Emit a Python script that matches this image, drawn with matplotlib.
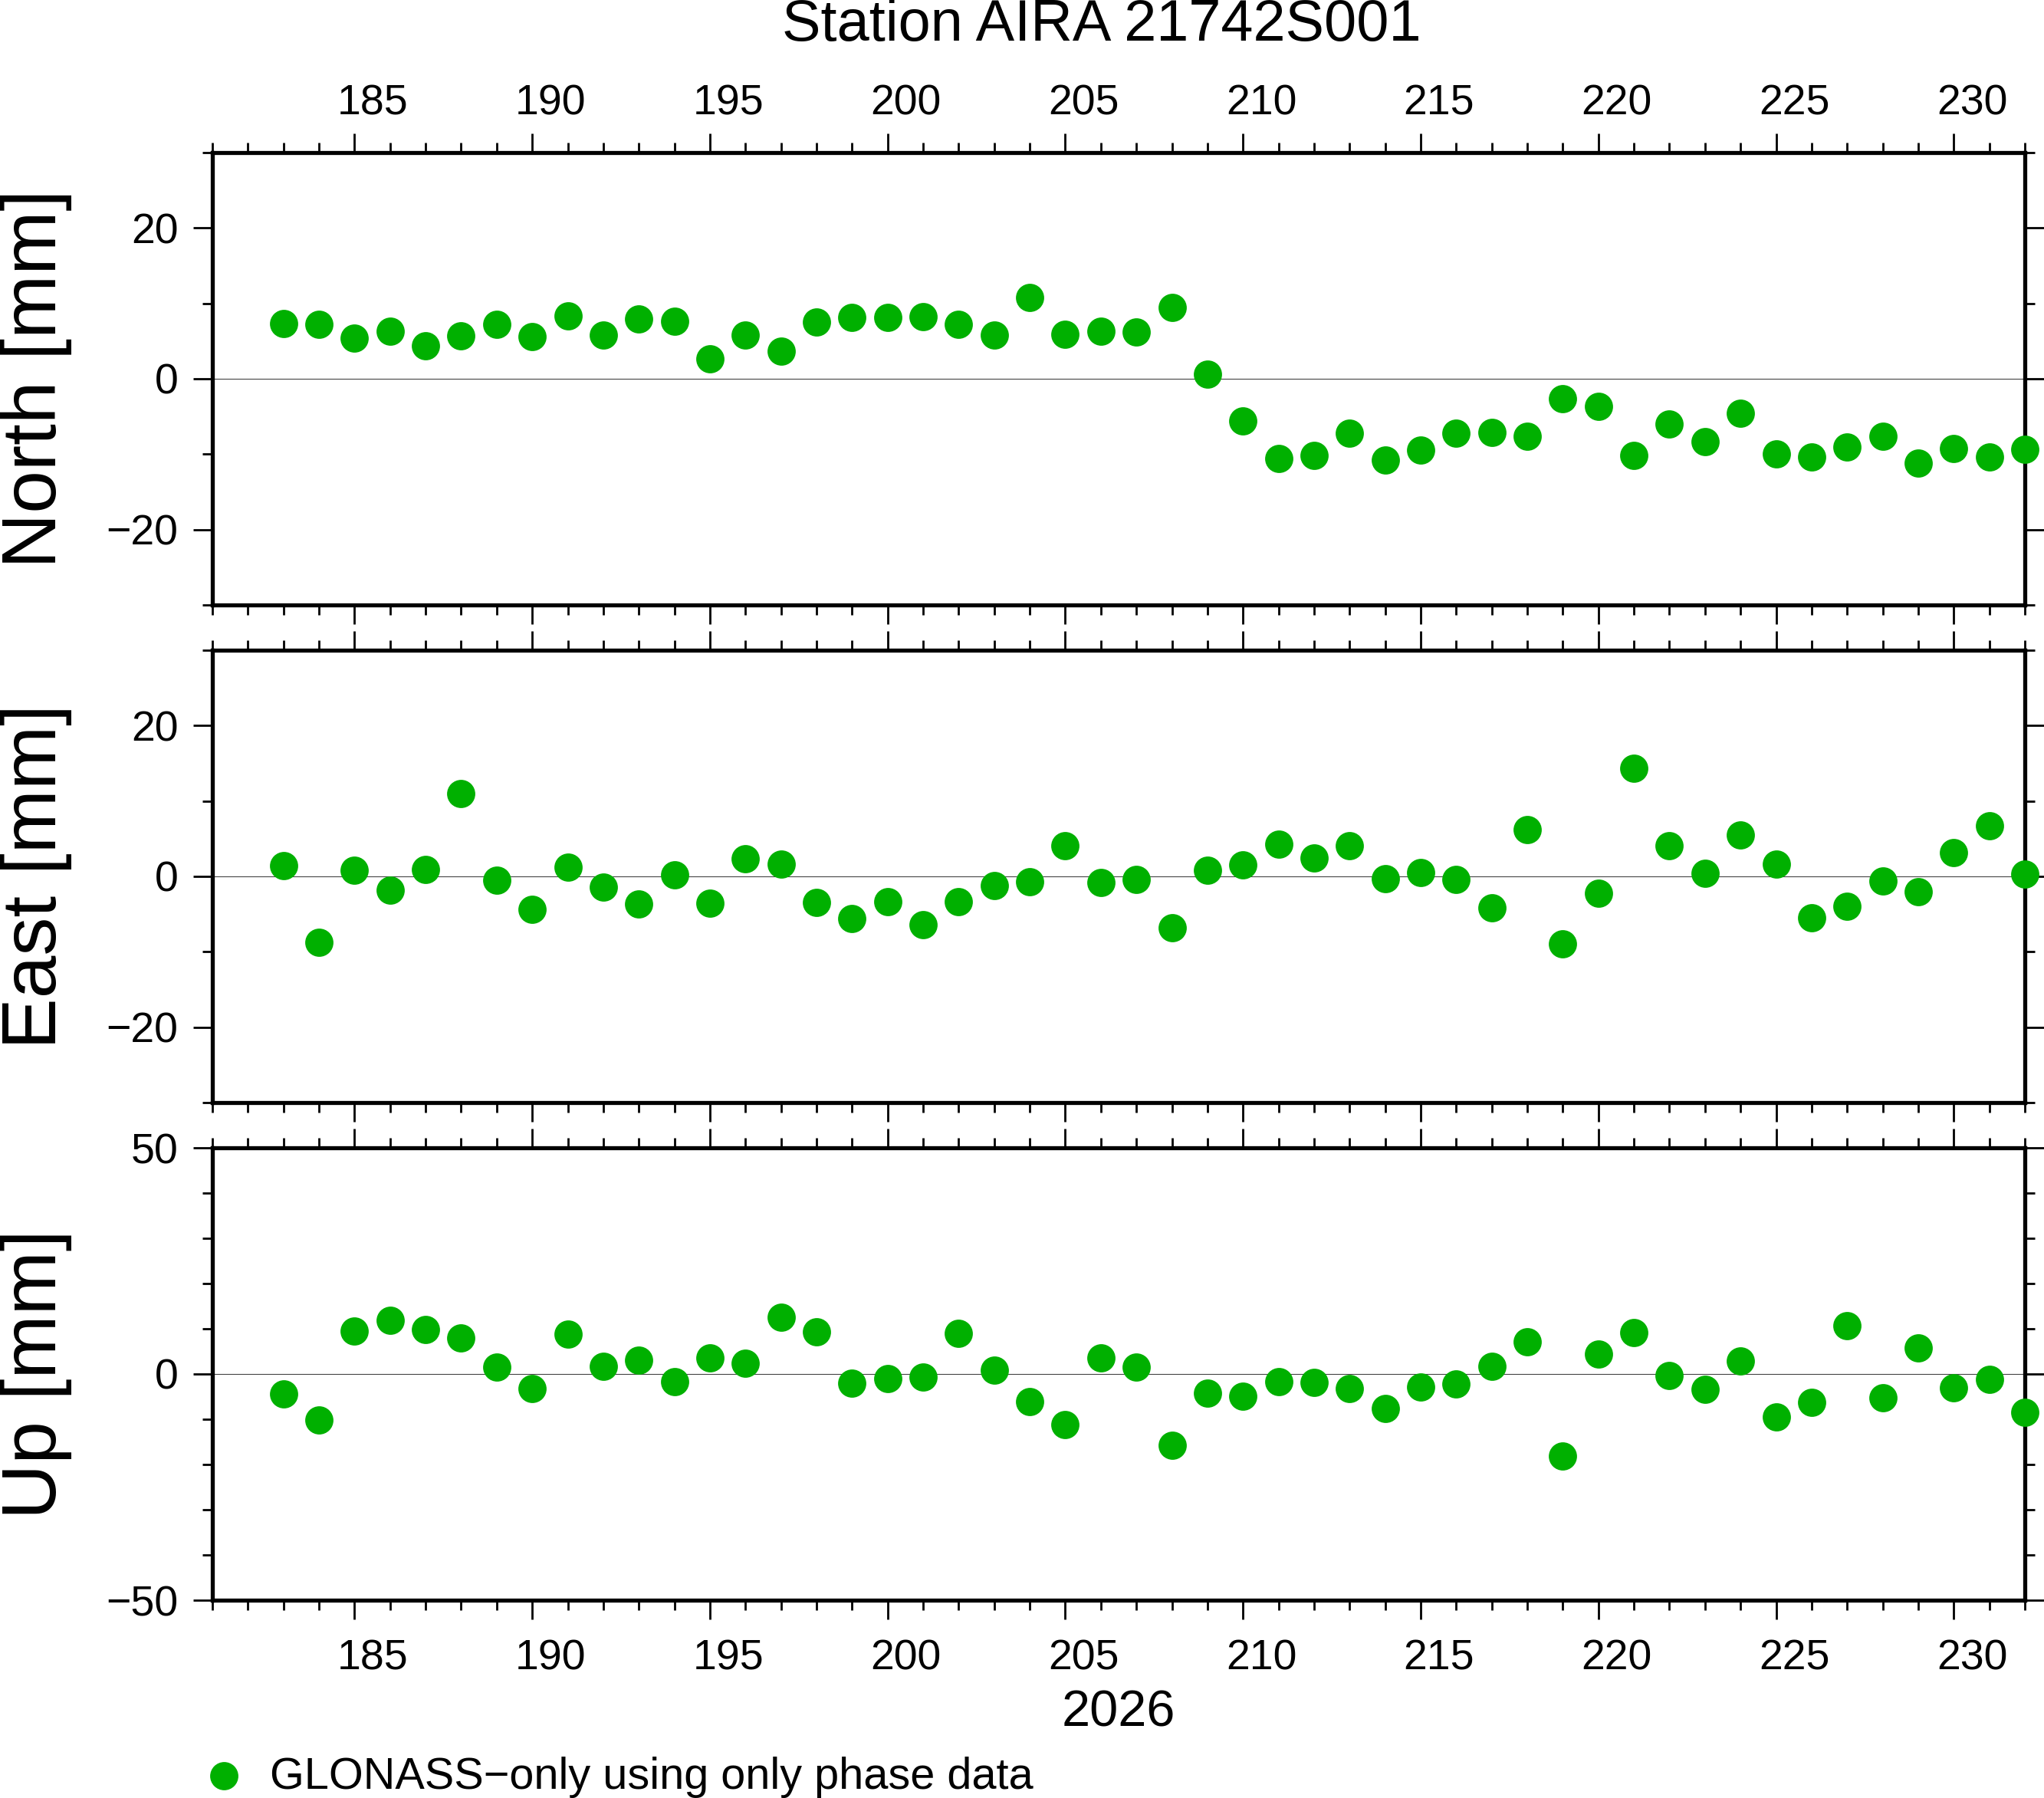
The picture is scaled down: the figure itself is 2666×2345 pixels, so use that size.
import matplotlib
matplotlib.use("Agg")
import matplotlib.pyplot as plt
from matplotlib.ticker import MultipleLocator, FixedLocator
from matplotlib.transforms import ScaledTranslation

plt.rcParams['font.family'] = ['Liberation Sans', 'DejaVu Sans']
plt.rcParams['axes.unicode_minus'] = True

title = "Station AIRA 21742S001"
year_label = "2026"
legend_label = "GLONASS\u2212only using only phase data"
panel_labels = ["North [mm]", "East [mm]", "Up [mm]"]

days = [183, 184, 185, 186, 187, 188, 189, 190, 191, 192, 193, 194, 195, 196, 197,
        198, 199, 200, 201, 202, 203, 204, 205, 206, 207, 208, 209, 210, 211, 212,
        213, 214, 215, 216, 217, 218, 219, 220, 221, 222, 223, 224, 225, 226, 227,
        228, 229, 230, 231, 232]

north = [7.35, 7.27, 5.38, 6.28, 4.35, 5.65, 7.19, 5.57, 8.3, 5.77, 7.98, 7.59,
         2.6, 5.77, 3.64, 7.5, 8.1, 8.1, 8.2, 7.27, 5.77, 10.83, 5.85, 6.28,
         6.17, 9.49, 0.6, -5.6, -10.6, -10.2, -7.23, -10.8, -9.5, -7.23,
         -7.15, -7.63, -2.69, -3.68, -10.2, -6.0, -8.38, -4.58, -10.0, -10.4,
         -9.05, -7.63, -11.2, -9.29, -10.4, -9.4]

east = [1.42, -8.74, 0.83, -1.86, 0.91, 10.95, -0.51, -4.35, 1.23, -1.42, -3.68, 0.24,
        -3.52, 2.33, 1.66, -3.44, -5.57, -3.32, -6.4, -3.36, -1.23, -0.67, 4.07, -0.83,
        -0.4, -6.8, 0.79, 1.5, 4.27, 2.45, 4.07, -0.32, 0.47, -0.4, -4.15, 6.17,
        -8.93, -2.25, 14.3, 4.03, 0.43, 5.49, 1.62, -5.49, -3.99, -0.59, -2.02, 3.16,
        6.72, 0.32]

up = [-4.37, -10.2, 9.5, 11.9, 9.85, 8.0, 1.52, -3.17, 8.86, 1.72, 3.1, -1.65,
      3.57, 2.38, 12.6, 9.3, -1.98, -0.99, -0.66, 9.06, 0.86, -6.08, -11.2, 3.64,
      1.52, -15.8, -4.23, -4.9, -1.72, -1.92, -3.24, -7.67, -2.91, -2.25, 1.72, 7.08,
      -18.2, 4.43, 9.19, -0.33, -3.44, 2.91, -9.52, -6.35, 10.7, -5.29, 5.82, -3.11,
      -1.19, -8.47]

series = [north, east, up]
ylims = [(-30, 30), (-30, 30), (-50, 50)]
ymajor = [[-20, 0, 20], [-20, 0, 20], [-50, 0, 50]]
yminor = [10, 10, 10]
xlim = (181, 232)

W, H = 2666, 2345
DPI = 100
fig = plt.figure(figsize=(W / DPI, H / DPI), dpi=DPI)

left_px, right_px = 277, 2641
tops = [199, 848, 1497]
hpx = 590
green = '#00b000'
frame_lw = 3.8

shift_bottom = ScaledTranslation(24 / DPI, 0, fig.dpi_scale_trans)
shift_top = ScaledTranslation(24 / DPI, -12 / DPI, fig.dpi_scale_trans)

axes = []
for i in range(3):
    ax = fig.add_axes([left_px / W, 1 - (tops[i] + hpx) / H,
                       (right_px - left_px) / W, hpx / H])
    axes.append(ax)
    ax.set_xlim(*xlim)
    ax.set_ylim(*ylims[i])
    ax.axhline(0, color='#444444', lw=0.8, zorder=1)
    ax.plot(days, series[i], 'o', color=green, ms=26.5, mec='none',
            clip_on=False, zorder=5)
    ax.xaxis.set_major_locator(MultipleLocator(5))
    ax.xaxis.set_minor_locator(MultipleLocator(1))
    ax.yaxis.set_major_locator(FixedLocator(ymajor[i]))
    ax.yaxis.set_minor_locator(MultipleLocator(yminor[i]))
    for s in ax.spines.values():
        s.set_linewidth(frame_lw)
        s.set_zorder(4)
    ax.tick_params(which='both', direction='out', top=True, bottom=True,
                   left=True, right=True, width=2.0, colors='black',
                   labelsize=40)
    ax.tick_params(which='major', length=18, pad=14)
    ax.tick_params(axis='x', which='major', pad=18)
    ax.tick_params(which='minor', length=9.5)
    ax.tick_params(axis='x', labeltop=(i == 0), labelbottom=(i == 2))
    ax.tick_params(axis='y', labelleft=True, labelright=False)
    for t in ax.xaxis.get_major_ticks():
        t.label1.set_transform(t.label1.get_transform() + shift_bottom)
        t.label2.set_transform(t.label2.get_transform() + shift_top)
    cy = 1 - (tops[i] + hpx / 2) / H
    fig.text(47 / W, cy, panel_labels[i], rotation=90, fontsize=72,
             ha='center', va='center')

fig.text(1437 / W, 1 - 33 / H, title, fontsize=54.5,
         ha='center', va='center')
fig.text(((left_px + right_px) / 2) / W, 1 - 2234 / H, year_label, fontsize=48,
         ha='center', va='center')

# legend entry
leg_ax = fig.add_axes([0, 0, 1, 1], facecolor='none')
leg_ax.set_xlim(0, W)
leg_ax.set_ylim(H, 0)
leg_ax.axis('off')
leg_ax.plot([292], [2316], 'o', color=green, ms=26.5, mec='none')
leg_ax.text(352, 2318, legend_label, fontsize=41.5, ha='left', va='center')

fig.savefig('out.png', dpi=DPI)
